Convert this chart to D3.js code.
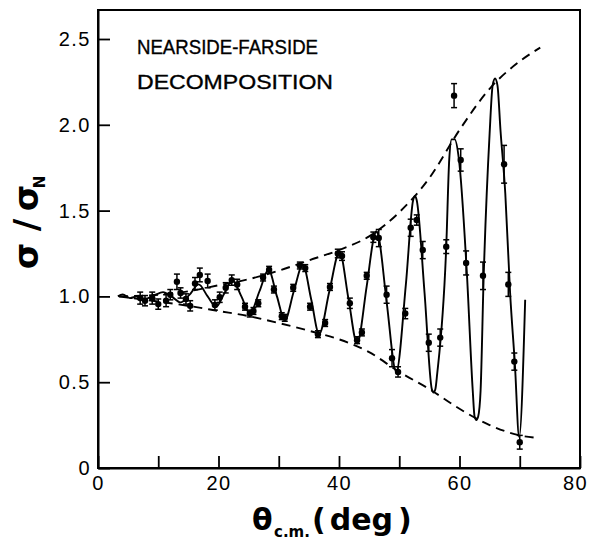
<!DOCTYPE html>
<html>
<head>
<meta charset="utf-8">
<script src="https://cdn.jsdelivr.net/npm/d3@7"></script>
<style>
  html, body { margin: 0; padding: 0; background: #fff; }
  svg { display: block; }
  text { font-family: "Liberation Sans", Arial, sans-serif; fill: #000; }
</style>
</head>
<body>
<svg id="chart" width="589" height="544"></svg>
<script>
// Axis ticks and labels
const xTicks = [0, 10, 20, 30, 40, 50, 60, 70, 80];
const xTickLabels = ["0", "", "20", "", "40", "", "60", "", "80"];
const yTicks = [0, 0.5, 1.0, 1.5, 2.0, 2.5];
const yTickLabels = ["0", "0.5", "1.0", "1.5", "2.0", "2.5"];

// Calculated cross section ratio (solid curve)
const fitAngle = [3.3, 4.1, 5.3, 6.5, 7.8, 9.3, 10.8, 12.2, 13.7, 15.2, 16.7, 18.2, 19.6, 21.0,
  22.3, 23.8, 25.2, 26.8, 28.3, 29.7, 31.0, 32.5, 34.0, 35.4, 36.7, 38.4, 40.1, 41.6, 43.0,
  44.6, 45.9, 46.2, 46.5, 47.9, 49.5, 51.1, 52.3, 52.6, 52.9, 54.2, 55.4, 55.7, 56.0, 56.3,
  57.8, 58.3, 58.7, 59.2, 59.9, 61.2, 62.2, 62.5, 62.8, 63.1, 63.5, 64.0, 65.0, 65.5, 65.9,
  66.3, 66.8, 67.6, 68.4, 69.2, 69.9, 70.9];
const fitRatio = [1.000, 1.012, 0.990, 1.000, 0.985, 1.005, 1.025, 1.000, 0.965, 1.010, 1.070, 1.000, 0.940, 1.020,
  1.095, 1.000, 0.900, 1.030, 1.155, 1.000, 0.860, 1.030, 1.185, 0.980, 0.780, 1.030, 1.260, 0.980, 0.725,
  1.060, 1.360, 1.380, 1.360, 0.970, 0.560, 1.070, 1.560, 1.585, 1.560, 1.020, 0.460, 0.440, 0.460, 0.550,
  1.290, 1.800, 1.915, 1.915, 1.800, 1.150, 0.450, 0.300, 0.280, 0.300, 0.450, 1.100, 1.950, 2.230, 2.270,
  2.230, 1.970, 1.600, 1.020, 0.600, 0.180, 0.980];

// Envelopes of the nearside and farside components (dashed)
const upperAngle = [3.5, 10, 15, 20, 25, 30, 35, 40, 45, 50, 55, 60, 65, 70, 73.4];
const upperRatio = [1.0, 1.01, 1.03, 1.065, 1.10, 1.15, 1.21, 1.27, 1.35, 1.49, 1.69, 1.97, 2.21, 2.37, 2.45];
const lowerAngle = [3.5, 10, 15, 20, 25, 30, 35, 40, 45, 50, 55, 60, 65, 70, 72.9];
const lowerRatio = [1.0, 0.97, 0.945, 0.915, 0.885, 0.845, 0.80, 0.75, 0.675, 0.56, 0.46, 0.345, 0.25, 0.19, 0.175];

// Measured points with errors
const dataAngle = [7.0, 7.8, 9.0, 10.0, 11.3, 12.0, 13.1, 13.7, 14.6, 15.3, 16.1, 16.9, 18.2, 19.4, 20.2, 21.2,
  22.2, 23.1, 24.4, 25.2, 25.8, 26.6, 27.4, 28.4, 29.2, 30.5, 31.0, 32.4, 33.5, 34.4, 35.2, 36.5,
  37.7, 38.5, 39.8, 40.5, 41.8, 43.0, 43.8, 44.6, 45.7, 46.6, 47.9, 48.8, 49.8, 51.0, 51.9, 52.9,
  53.9, 54.9, 56.8, 57.8, 59.1, 60.2, 61.1, 63.9, 67.4, 68.1, 69.1, 70.0];
const dataRatio = [0.99, 0.975, 0.99, 0.955, 0.975, 1.01, 1.085, 1.02, 0.985, 0.945, 1.075, 1.125, 1.09, 0.95, 0.995, 1.05,
  1.095, 1.07, 0.94, 0.90, 0.915, 0.96, 1.11, 1.155, 1.04, 0.885, 0.875, 1.05, 1.18, 1.165, 0.94, 0.78,
  0.845, 1.055, 1.25, 1.235, 0.96, 0.745, 0.79, 1.12, 1.345, 1.34, 1.01, 0.64, 0.56, 0.90, 1.40, 1.445,
  1.27, 0.73, 0.76, 1.29, 2.17, 1.795, 1.195, 1.12, 1.77, 1.07, 0.62, 0.15];
const dataError = [0.035, 0.03, 0.035, 0.03, 0.035, 0.03, 0.045, 0.03, 0.03, 0.03, 0.035, 0.04, 0.04, 0.03, 0.03, 0.03,
  0.03, 0.03, 0.02, 0.02, 0.02, 0.02, 0.02, 0.02, 0.02, 0.02, 0.02, 0.02, 0.02, 0.02, 0.02, 0.02,
  0.02, 0.02, 0.025, 0.025, 0.03, 0.02, 0.02, 0.02, 0.03, 0.05, 0.05, 0.05, 0.03, 0.03, 0.05, 0.03,
  0.05, 0.05, 0.05, 0.04, 0.07, 0.065, 0.07, 0.08, 0.11, 0.07, 0.05, 0.04];

const svg = d3.select("#chart");
const x = d3.scaleLinear().domain([0, 80]).range([98, 580]);
const y = d3.scaleLinear().domain([0, 2.669]).range([468, 10]);

// Frame
svg.append("rect")
  .attr("x", x(0)).attr("y", y(2.669))
  .attr("width", x(80) - x(0)).attr("height", y(0) - y(2.669))
  .attr("fill", "none").attr("stroke", "#000").attr("stroke-width", 2);

// Axes with inward ticks
const xAxis = d3.axisBottom(x).tickValues(xTicks).tickSize(-12).tickSizeOuter(0).tickPadding(8)
  .tickFormat((d, i) => xTickLabels[i]);
const yAxis = d3.axisLeft(y).tickValues(yTicks).tickSize(-12).tickSizeOuter(0).tickPadding(7)
  .tickFormat((d, i) => yTickLabels[i]);

const gx = svg.append("g").attr("transform", `translate(0,${y(0)})`).call(xAxis);
const gy = svg.append("g").attr("transform", `translate(${x(0)},0)`).call(yAxis);
[gx, gy].forEach(g => {
  g.select(".domain").attr("stroke", "#000").attr("stroke-width", 2);
  g.selectAll(".tick line").attr("stroke", "#000").attr("stroke-width", 1.8);
  g.selectAll(".tick text")
    .style("font-family", "'Liberation Sans', Arial, sans-serif")
    .attr("font-size", 20).attr("letter-spacing", 1.5).attr("fill", "#000");
});
// keep the last x label inside the page
gx.selectAll(".tick text").filter(d => d === 80).attr("dx", -5);

// Envelopes
const upperPts = upperAngle.map((a, i) => [a, upperRatio[i]]);
const lowerPts = lowerAngle.map((a, i) => [a, lowerRatio[i]]);
const line = d3.line().x(d => x(d[0])).y(d => y(d[1])).curve(d3.curveMonotoneX);
[upperPts, lowerPts].forEach(pts => {
  svg.append("path").attr("d", line(pts))
    .attr("fill", "none").attr("stroke", "#000").attr("stroke-width", 1.9)
    .attr("stroke-dasharray", "9,6");
});

// Calculated curve
const fitPts = fitAngle.map((a, i) => [a, fitRatio[i]]);
svg.append("path").attr("d", line(fitPts))
  .attr("fill", "none").attr("stroke", "#000").attr("stroke-width", 1.9)
  .attr("stroke-linejoin", "round");

// Data with error bars
const pts = dataAngle.map((a, i) => ({ a, v: dataRatio[i], e: dataError[i] }));
const g = svg.append("g").attr("stroke", "#000").attr("stroke-width", 1.5);
const cap = 3;
pts.forEach(p => {
  const cx = x(p.a), y0 = y(p.v - p.e), y1 = y(p.v + p.e);
  g.append("line").attr("x1", cx).attr("x2", cx).attr("y1", y0).attr("y2", y1);
  g.append("line").attr("x1", cx - cap).attr("x2", cx + cap).attr("y1", y0).attr("y2", y0);
  g.append("line").attr("x1", cx - cap).attr("x2", cx + cap).attr("y1", y1).attr("y2", y1);
  g.append("circle").attr("cx", cx).attr("cy", y(p.v)).attr("r", 3.2)
    .attr("fill", "#000").attr("stroke", "none");
});

// Annotation
svg.append("text").attr("x", 137).attr("y", 54).attr("font-size", 20)
  .attr("stroke", "#000").attr("stroke-width", 0.35)
  .attr("textLength", 181).attr("lengthAdjust", "spacingAndGlyphs")
  .text("NEARSIDE-FARSIDE");
svg.append("text").attr("x", 137).attr("y", 89).attr("font-size", 20)
  .attr("stroke", "#000").attr("stroke-width", 0.35)
  .attr("textLength", 196).attr("lengthAdjust", "spacingAndGlyphs")
  .text("DECOMPOSITION");

// X axis title
const bold = (sel) => sel.attr("font-weight", "bold").style("font-family", "'DejaVu Sans', sans-serif");
bold(svg.append("text").attr("x", 252).attr("y", 530).attr("font-size", 30)).text("θ");
bold(svg.append("text").attr("x", 274).attr("y", 537).attr("font-size", 15)).text("c.m.");
const deg = bold(svg.append("text").attr("x", 312).attr("y", 530).attr("font-size", 30));
deg.append("tspan").text("(");
deg.append("tspan").attr("dx", 4).text("deg");
deg.append("tspan").attr("dx", 5).text(")");

// Y axis title
const yt = [["σ", 38, 256, 34], ["/", 38, 225, 34], ["σ", 38, 198, 34]];
yt.forEach(([t, tx, ty, fs]) => {
  bold(svg.append("text").attr("transform", `translate(${tx},${ty}) rotate(-90)`)
    .attr("text-anchor", "middle").attr("font-size", fs)).text(t);
});
bold(svg.append("text").attr("transform", "translate(45,182) rotate(-90)")
  .attr("text-anchor", "middle").attr("font-size", 15)).text("N");
</script>
</body>
</html>
